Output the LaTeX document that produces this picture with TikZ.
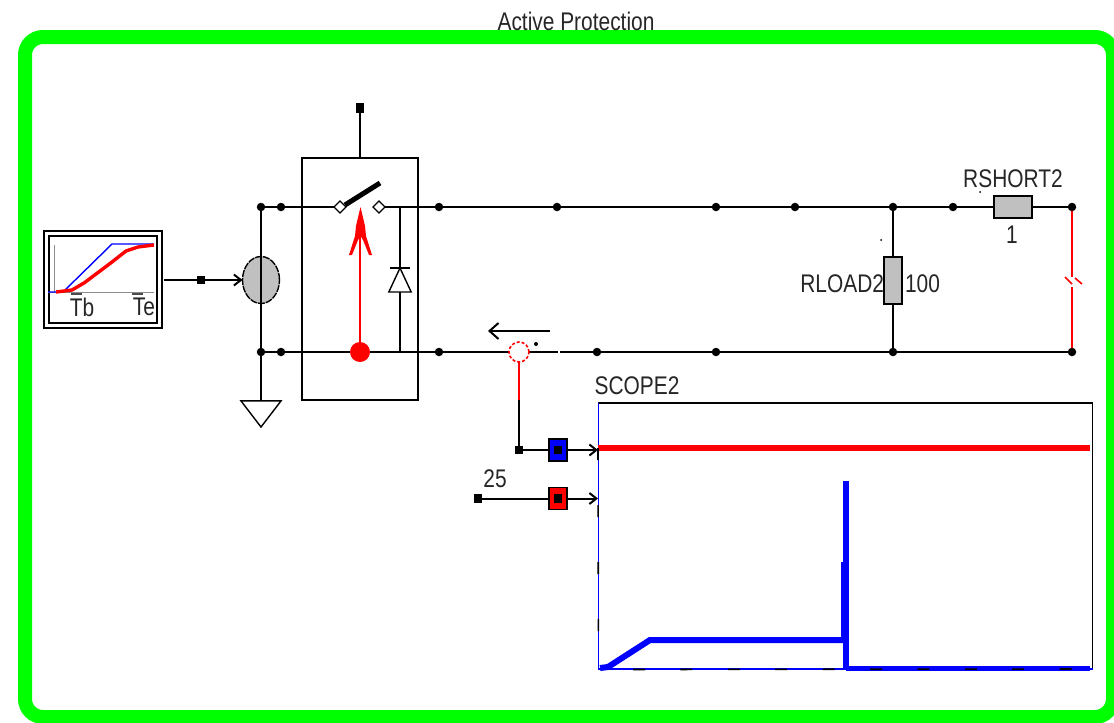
\documentclass[tikz,border=0pt]{standalone}
\usepackage{fontspec}
\setmainfont[FakeStretch=0.82]{Liberation Sans}
\usepackage{xcolor}
\usetikzlibrary{shapes.geometric, arrows.meta, positioning, calc}
\definecolor{framegreen}{RGB}{0,255,0}
\definecolor{partgray}{RGB}{192,192,192}
\begin{document}
\begin{tikzpicture}[
    x=1pt, y=-1pt,
    line width=2pt,
    outer sep=0pt,
    % Styles
    label/.style={inner sep=0pt, font=\fontsize{25.5}{27}\selectfont, text=black!85},
    junction/.style={circle, fill=black, inner sep=0pt, minimum size=8.5pt},
    terminal/.style={rectangle, fill=black, inner sep=0pt, minimum size=8.5pt},
    contact/.style={diamond, draw=black, fill=white, line width=1.2pt, inner sep=0pt, minimum size=12pt},
    partbox/.style={rectangle, draw=black, fill=partgray, inner sep=0pt},
    probe/.style={rectangle, draw=black, line width=1.8pt, inner sep=0pt, minimum width=18pt, minimum height=22pt},
    wire/.style={draw=black},
    signal/.style={->, >={Straight Barb[length=7pt,width=11pt]}, draw=black}
]
\useasboundingbox (0,0) rectangle (1114,723);

% Outer frame
\node[rectangle, draw=framegreen, line width=14pt, rounded corners=18pt, minimum width=1088pt, minimum height=680pt, inner sep=0pt] (frame) at (569,377) {};
\node[label] (title) at (576,21) {Active Protection};

% Junctions along the two rails
\foreach \x in {261,281,439,557,716,795,893,953,1072}
    \node[junction] (top\x) at (\x,207) {};
\foreach \x in {261,281,439,597,716,893,1072}
    \node[junction] (bot\x) at (\x,352) {};

% Ramp source
\node[rectangle, draw=black, line width=1.6pt, minimum width=118pt, minimum height=97pt, inner sep=0pt] (ramp) at (103,279.5) {};
\node[rectangle, draw=black, line width=1.6pt, minimum width=108pt, minimum height=87pt, inner sep=0pt] (rampin) at (103,279.5) {};
\draw[black!45, line width=1pt] (54,245) -- (54,292) (48,292) -- (154,292);
\draw[blue, line width=1.4pt] (48,292) -- (63,292) -- (112,244) -- (154,244);
\draw[red, line width=3.4pt] (56,292) -- (72,290) -- (84,283) -- (112,262) -- (126,251) -- (138,247) -- (154,245);
\draw[black!70, line width=1.5pt] (71,294) -- (82,294) (132,294) -- (143,294);
\node[label] (tb) at (82,307) {Tb};
\node[label] (te) at (144,307) {Te};

% Voltage source and ground
\node[ellipse, draw=black, fill=partgray, line width=1.4pt, dash pattern=on 7pt off 1pt, inner sep=0pt, minimum width=37pt, minimum height=47pt] (src) at (261,280) {};
\node[terminal] (rampterm) at (201,280) {};
\coordinate (rampout) at (164,280);
\draw[wire] (rampout) -- (rampterm);
\draw[signal] (rampterm) -- (src.west);
\node[isosceles triangle, isosceles triangle apex angle=75, shape border rotate=-90, draw=black, fill=white, line width=1.4pt, inner sep=0pt, minimum width=40pt, minimum height=26pt, anchor=apex] (gnd) at (261,427) {};
\draw[wire] (top261) -- (bot261) (bot261) -- (gnd.north);

% Switch module
\node[rectangle, draw=black, minimum width=116pt, minimum height=242pt, inner sep=0pt] (module) at (360,279) {};
\node[terminal, minimum height=10pt] (gate) at (360,108) {};
\draw[wire] (gate) -- (module.north);
\node[contact] (swa) at (340,207) {};
\node[contact] (swb) at (379,207) {};
\coordinate (blade) at (380,183);
\draw[wire] (top261) -- (swa) (swb) -- (top439);
\draw[wire] (bot261) -- (bot439);
\draw[black, line width=5pt] (swa) ++(5,-2) -- (blade);

% Red actuator
\node[circle, fill=red, inner sep=0pt, minimum size=20pt] (act) at (360,352) {};
\coordinate (acthead) at (360,225);
\draw[red, line width=1.6pt] (act) -- (acthead);
\fill[red] (360.5,207) -- (365,226) -- (366,236) -- (372,255) -- (369,255) -- (363,240) -- (360.5,236) -- (358,240) -- (352,255) -- (349,255) -- (355,236) -- (356,226) -- cycle;

% Diode
\coordinate (dtop) at (400,207);
\coordinate (dbot) at (400,352);
\draw[wire] (dtop) -- (dbot);
\node[isosceles triangle, isosceles triangle apex angle=50, shape border rotate=90, draw=black, fill=white, line width=1.4pt, inner sep=0pt, minimum width=21pt, minimum height=24pt, anchor=apex] (diode) at (400,268) {};
\draw[black, line width=1.4pt] (390,268) -- (410,268);

% Rails to the right
\draw[wire] (top439) -- (top1072);
\coordinate (gapl) at (558,352);
\coordinate (gapr) at (560,352);
\draw[wire] (bot439) -- (gapl) (gapr) -- (bot1072);

% Load resistors
\node[partbox, minimum width=18pt, minimum height=47pt] (rload) at (893,280) {};
\draw[wire] (top893) -- (rload) (rload) -- (bot893);
\node[partbox, minimum width=38pt, minimum height=22pt] (rshort) at (1012.5,207) {};
\node[label, anchor=east] (rloadname) at (884,284) {RLOAD2};
\node[label, anchor=west] (rloadval) at (905,284) {100};
\node[label] (rshortname) at (1013,179) {RSHORT2};
\node[label] (rshortval) at (1012,235) {1};
\fill[black] (881,240) circle (1pt);
\fill[black] (980,192) circle (1pt);

% Open link in red
\coordinate (brka) at (1072,277);
\coordinate (brkb) at (1072,287);
\draw[red, line width=1.6pt] (top1072) -- (brka) (brkb) -- (bot1072);
\draw[red, line width=1.6pt] (1065,277) -- (1072,284) (1075,278) -- (1082,284);

% Current sensor
\node[circle, draw=red, fill=white, line width=1.6pt, densely dashed, inner sep=0pt, minimum size=20pt] (sensor) at (519,352) {};
\coordinate (senarrowa) at (550,331);
\coordinate (senarrowb) at (488,331);
\draw[->, >={Straight Barb[length=9pt,width=16pt]}, draw=black] (senarrowa) -- (senarrowb);
\fill[black] (536,344) circle (2pt);
\coordinate (senmid) at (519,400);
\node[terminal] (senterm) at (519,450) {};
\draw[red, line width=1.6pt] (sensor) -- (senmid);
\draw[wire] (senmid) -- (senterm);

% Scope
\node[rectangle, draw=black, line width=1.6pt, minimum width=494pt, minimum height=266pt, inner sep=0pt] (scope) at (845.5,536) {};
\node[label] (scopename) at (637,386) {SCOPE2};
\draw[blue, line width=1.6pt] (scope.north west) -- (scope.south west) -- (scope.south east);
\draw[red, line width=6.5pt] (598,448) -- (1090,448);
\draw[blue, line width=6pt] (600,668) -- (608,667) -- (650,640) -- (846,640);
\draw[blue, line width=5.3pt] (846,481) -- (846,668);
\draw[blue, line width=7.7pt] (844.5,562) -- (844.5,640);
\draw[blue, line width=5pt] (846,668) -- (1090,668);
\draw[black, line width=1.6pt, dash pattern=on 12pt off 45pt] (598,448) -- (scope.south west);
\draw[black, line width=1.6pt, dash pattern=on 12pt off 35.4pt] (633,669.5) -- (scope.south east);

% Probe inputs
\node[label] (valname) at (495,479) {25};
\node[terminal] (valterm) at (478,498.5) {};
\node[probe, fill=blue] (probea) at (558,450) {};
\node[probe, fill=red] (probeb) at (558,498.5) {};
\node[terminal] at (probea) {};
\node[terminal] at (probeb) {};
\coordinate (inpa) at (598,450);
\coordinate (inpb) at (598,498.5);
\draw[wire] (senterm) -- (probea);
\draw[wire] (valterm) -- (probeb);
\draw[signal] (probea) -- (inpa);
\draw[signal] (probeb) -- (inpb);

\end{tikzpicture}
\end{document}
